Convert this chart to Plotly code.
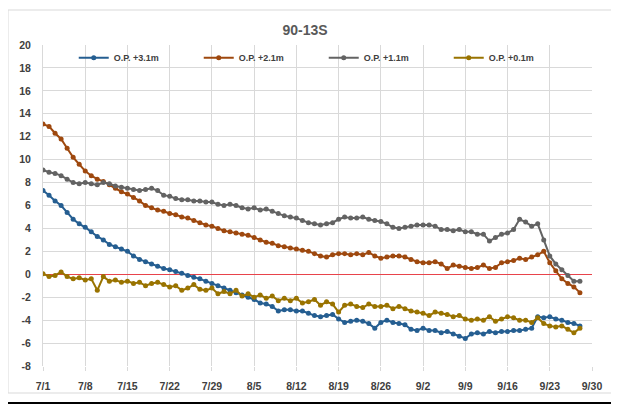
import pandas as pd
import plotly.graph_objects as go

start_date = "2019-07-01"
series_names = ["O.P. +3.1m", "O.P. +2.1m", "O.P. +1.1m", "O.P. +0.1m"]
series_colors = ["#255E91", "#9E480E", "#636363", "#997300"]

op_3_1 = [7.3, 6.9, 6.4, 6.0, 5.4, 4.8, 4.4, 4.1, 3.7, 3.3,
          3.0, 2.6, 2.4, 2.2, 2.0, 1.6, 1.3, 1.1, 0.9, 0.7,
          0.5, 0.4, 0.25, 0.1, -0.1, -0.25, -0.4, -0.6, -0.8, -1.0,
          -1.2, -1.4, -1.6, -1.8, -2.0, -2.2, -2.5, -2.6, -2.8, -3.2,
          -3.1, -3.1, -3.2, -3.2, -3.4, -3.6, -3.7, -3.6, -3.5, -3.9,
          -4.2, -4.1, -4.0, -4.1, -4.3, -4.7, -4.2, -4.0, -4.2, -4.3,
          -4.4, -4.8, -4.9, -4.7, -4.9, -4.9, -5.1, -5.0, -5.2, -5.4,
          -5.6, -5.2, -5.1, -5.2, -5.0, -5.1, -5.0, -5.0, -4.9, -4.9,
          -4.8, -4.7, -3.7, -3.8, -3.7, -3.9, -4.0, -4.2, -4.3, -4.5]

op_2_1 = [13.1, 12.9, 12.3, 11.8, 11.0, 10.2, 9.6, 9.0, 8.6, 8.3,
          8.1, 7.8, 7.5, 7.2, 7.0, 6.7, 6.4, 6.0, 5.8, 5.6,
          5.5, 5.3, 5.2, 5.0, 4.9, 4.7, 4.5, 4.3, 4.2, 4.0,
          3.8, 3.7, 3.6, 3.5, 3.4, 3.2, 3.0, 2.8, 2.7, 2.5,
          2.4, 2.3, 2.2, 2.1, 2.0, 1.8, 1.6, 1.5, 1.7, 1.8,
          1.8, 1.7, 1.8, 1.7, 1.9, 1.6, 1.4, 1.5, 1.6, 1.6,
          1.5, 1.3, 1.1, 1.0, 1.0, 1.1, 0.9, 0.5, 0.8, 0.7,
          0.6, 0.5, 0.6, 0.8, 0.5, 0.6, 1.0, 1.1, 1.2, 1.4,
          1.3, 1.5, 1.7, 2.0, 1.0, 0.3, -0.4, -0.8, -1.1, -1.6]

op_1_1 = [9.1, 8.9, 8.8, 8.6, 8.3, 8.0, 7.9, 8.0, 7.9, 7.8,
          8.0, 7.9, 7.7, 7.6, 7.5, 7.4, 7.3, 7.4, 7.5, 7.3,
          6.9, 6.8, 6.6, 6.5, 6.5, 6.4, 6.4, 6.3, 6.3, 6.1,
          6.0, 6.1, 6.0, 5.8, 5.7, 5.8, 5.6, 5.7, 5.5, 5.3,
          5.1, 5.0, 4.9, 4.7, 4.5, 4.4, 4.3, 4.4, 4.5, 4.8,
          5.0, 4.9, 4.9, 5.0, 4.8, 4.7, 4.6, 4.4, 4.1, 4.0,
          4.1, 4.2, 4.3, 4.3, 4.3, 4.2, 3.9, 3.9, 3.8, 3.9,
          3.7, 3.7, 3.5, 3.5, 2.9, 3.2, 3.5, 3.6, 3.9, 4.8,
          4.55, 4.2, 4.4, 3.0, 1.6, 0.9, 0.4, -0.1, -0.6, -0.6]

op_0_1 = [0.05, -0.2, -0.1, 0.2, -0.2, -0.4, -0.3, -0.5, -0.4, -1.4,
          -0.2, -0.6, -0.5, -0.7, -0.6, -0.8, -0.7, -1.0, -0.8, -0.7,
          -0.9, -1.1, -1.0, -1.4, -1.2, -0.9, -1.3, -1.4, -1.2, -1.7,
          -1.5, -1.7, -1.4, -1.9, -1.7, -2.0, -1.8, -2.1, -1.9, -2.3,
          -2.1, -2.3, -2.1, -2.5, -2.4, -2.2, -2.7, -2.4, -2.6, -3.3,
          -2.7, -2.6, -2.8, -2.9, -2.6, -2.8, -2.8, -2.7, -3.0, -2.8,
          -3.0, -3.2, -3.3, -3.4, -3.6, -3.3, -3.4, -3.5, -3.7, -3.6,
          -3.9, -4.0, -3.9, -4.0, -3.7, -4.1, -3.9, -3.7, -3.8, -4.0,
          -4.0, -4.2, -3.8, -4.3, -4.5, -4.6, -4.5, -4.8, -5.1, -4.7]

x_tick_labels = ["7/1", "7/8", "7/15", "7/22", "7/29", "8/5", "8/12", "8/19",
                 "8/26", "9/2", "9/9", "9/16", "9/23", "9/30"]
y_ticks = list(range(-8, 21, 2))

series_values = [op_3_1, op_2_1, op_1_1, op_0_1]

fig = go.Figure()
for name, color, vals in zip(series_names, series_colors, series_values):
    dates = pd.date_range(start_date, periods=len(vals), freq="D")
    fig.add_trace(go.Scatter(
        x=dates, y=vals, name=f"<b>{name}</b>", mode="lines+markers",
        line=dict(color=color, width=2),
        marker=dict(color=color, size=5, symbol="circle"),
    ))

tick_dates = pd.date_range(start_date, periods=len(x_tick_labels), freq="7D")

font_main = "'Liberation Sans', Arial, sans-serif"
# page body has an 8px margin, so offsets compensate for it
fig.update_layout(
    width=619, height=406,
    margin=dict(l=35, r=35, t=37, b=48),
    paper_bgcolor="white", plot_bgcolor="white",
    title=dict(text="<b>90-13S</b>", x=297 / 619, xanchor="center", y=1 - 22 / 406, yanchor="middle",
               font=dict(family=font_main, size=14, color="#595959")),
    showlegend=True,
    legend=dict(orientation="h", x=0.056, xanchor="left", y=0.96, yanchor="middle",
                bgcolor="rgba(0,0,0,0)", font=dict(family=font_main, size=9, color="#404040"),
                entrywidth=80, entrywidthmode="pixels", itemwidth=30, tracegroupgap=0),
    xaxis=dict(type="date", range=[tick_dates[0], tick_dates[-1]],
               tickvals=list(tick_dates), ticktext=[f"<b>{t}</b>" for t in x_tick_labels],
               showgrid=True, gridcolor="#D9D9D9", gridwidth=1,
               showline=False, ticks="outside", ticklen=4, tickcolor="#D9D9D9",
               ticklabelstandoff=6,
               tickfont=dict(family=font_main, size=10.5, color="#404040"), zeroline=False),
    yaxis=dict(range=[-8, 20], tickvals=y_ticks, ticktext=[f"<b>{v}</b>" for v in y_ticks],
               showgrid=True, gridcolor="#D9D9D9", gridwidth=1,
               showline=True, linecolor="#D9D9D9",
               zeroline=True, zerolinecolor="#E8434B", zerolinewidth=1,
               ticklabelstandoff=9,
               tickfont=dict(family=font_main, size=10.5, color="#404040")),
)

# chart-area border and surrounding sheet frame
fig.add_shape(type="rect", xref="paper", yref="paper",
              x0=-35 / 549, x1=570 / 549, y0=-27 / 321, y1=1 + 35 / 321,
              line=dict(color="#D9D9D9", width=1))
fig.add_shape(type="line", xref="paper", yref="paper", x0=-38 / 549, x1=1 + 30 / 549,
              y0=-37 / 321, y1=-37 / 321, line=dict(color="black", width=2))
fig.add_shape(type="line", xref="paper", yref="paper", x0=-38 / 549, x1=-38 / 549,
              y0=-37 / 321, y1=1 + 42 / 321, line=dict(color="black", width=1.5))
fig.add_shape(type="line", xref="paper", yref="paper", x0=-38 / 549, x1=1 + 30 / 549,
              y0=1 + 41.5 / 321, y1=1 + 41.5 / 321, line=dict(color="black", width=2))

fig.write_html("out.html")
